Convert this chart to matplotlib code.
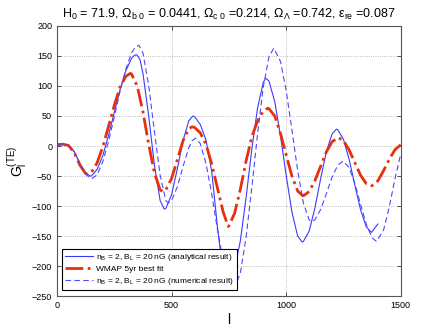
import matplotlib
matplotlib.use("Agg")
import matplotlib.pyplot as plt
import numpy as np

plt.rcParams['font.family'] = ['Liberation Sans', 'DejaVu Sans']
plt.rcParams['mathtext.fontset'] = 'custom'
plt.rcParams['mathtext.rm'] = 'Liberation Sans'
plt.rcParams['mathtext.it'] = 'Liberation Sans'

# analytical result (solid blue)
l_analytical = [0, 25, 50, 75, 100, 125, 145, 150, 175, 200, 225, 250, 275, 300,
                325, 337, 348, 362, 375, 400, 425, 450, 468, 475, 500, 525, 550,
                575, 593, 600, 625, 650, 675, 700, 725, 742, 750, 775, 800, 825,
                850, 875, 900, 911, 925, 950, 975, 1000, 1025, 1050, 1070, 1075,
                1100, 1125, 1150, 1175, 1200, 1219, 1225, 1250, 1275, 1300, 1325,
                1350, 1372, 1400]
g_analytical = [3, 3, 1, -9, -29, -45, -50, -50, -39, -16, 18, 56, 94, 125,
                146, 151, 152, 144, 121, 50, -32, -91, -105, -104, -81, -38, 9,
                42, 50, 49, 36, 10, -42, -135, -212, -240, -236, -205, -158, -86,
                -5, 63, 106, 113, 108, 74, 17, -49, -110, -150, -160, -159,
                -142, -104, -55, -10, 20, 28, 27, 11, -23, -66, -107,
                -135, -144, -130]

# WMAP 5yr best fit (red dash-dot)
l_wmap = [0, 25, 50, 75, 100, 125, 135, 150, 175, 200, 225, 250, 275, 300, 320,
          325, 350, 375, 400, 425, 450, 462, 475, 500, 525, 550, 575, 589, 600,
          625, 650, 675, 700, 725, 747, 750, 775, 800, 825, 850, 875, 900, 920,
          925, 950, 975, 1000, 1025, 1050, 1073, 1075, 1100, 1125, 1150, 1175,
          1200, 1226, 1250, 1275, 1300, 1325, 1350, 1369, 1375, 1400, 1425,
          1450, 1475, 1500]
g_wmap = [2, 3, 1, -11, -32, -46, -47, -44, -28, -1, 33, 68, 98, 116, 121,
          120, 100, 57, 3, -45, -73, -76, -73, -54, -23, 9, 29, 32, 31,
          22, 3, -30, -70, -110, -134, -133, -112, -72, -25, 15, 42, 58, 63,
          62, 50, 21, -15, -50, -75, -83, -83, -76, -58, -34, -10,
          7, 14, 9, -7, -28, -49, -63, -66, -66, -58, -41,
          -22, -6, 2]

# numerical result (dashed blue)
l_numerical = [0, 25, 50, 75, 100, 125, 150, 175, 200, 225, 250, 275, 300, 325,
               340, 357, 375, 400, 425, 450, 475, 485, 500, 525, 550, 575, 590,
               605, 625, 650, 675, 700, 725, 750, 772, 800, 825, 850, 875, 900,
               925, 946, 975, 1000, 1025, 1050, 1075, 1100, 1110, 1125, 1150,
               1175, 1200, 1225, 1248, 1275, 1300, 1325, 1350, 1375, 1394, 1425,
               1450, 1475, 1500]
g_numerical = [3, 3, 1, -10, -29, -47, -55, -48, -26, 8, 49, 91, 128, 155,
               164, 168, 155, 101, 24, -49, -91, -95, -91, -68, -34, -3, 9,
               13, 4, -29, -80, -139, -191, -226, -237, -212, -152, -69, 20, 98,
               149, 163, 141, 92, 27, -41, -95, -123, -126, -123, -106,
               -80, -52, -32, -25, -36, -63, -98, -131, -153, -159, -140,
               -101, -54, -13]

legend_labels = [r'n$_B$ = 2, B$_L$ = 20 nG (analytical result)',
                 'WMAP 5yr best fit',
                 r'n$_B$ = 2, B$_L$ = 20 nG (numerical result)']

title = (r'H$_0$ = 71.9, $\Omega_{b\ 0}$ = 0.0441, $\Omega_{c\ 0}$ =0.214, '
         r'$\Omega_\Lambda$ =0.742, $\epsilon_{re}$ =0.087')

fig = plt.figure(figsize=(4.43, 3.33), dpi=100)
ax = fig.add_axes([0.1287, 0.111, 0.776, 0.811])

ax.plot(l_analytical, g_analytical, '-', color='#3a3aff', lw=0.8,
        label=legend_labels[0])
ax.plot(l_wmap, g_wmap, '-.', color='#e8300c', lw=2.0, label=legend_labels[1])
ax.plot(l_numerical, g_numerical, '--', color='#4a4aff', lw=0.8, dashes=(5, 3),
        label=legend_labels[2])

ax.set_xlim(0, 1500)
ax.set_ylim(-250, 200)
ax.set_xticks([0, 500, 1000, 1500])
ax.set_yticks(np.arange(-250, 201, 50))
ax.tick_params(direction='in', labelsize=6.5, length=3, width=0.6,
               top=True, right=True, colors='#333333', labelcolor='black')
ax.grid(True, linestyle=':', color='#aaaaaa', lw=0.6)
for s in ax.spines.values():
    s.set_color('#555555')
    s.set_linewidth(0.8)

ax.set_title(title, fontsize=9, pad=6)
ax.set_xlabel('l', fontsize=10, labelpad=2)
ax.set_ylabel(r'G$_l^{(TE)}$', fontsize=10, labelpad=2)

leg = ax.legend(loc='lower left', bbox_to_anchor=(0.014, 0.022), fontsize=6.0,
                frameon=True, fancybox=False, framealpha=1, edgecolor='black',
                handlelength=3.4, borderpad=0.35, labelspacing=0.35,
                handletextpad=0.4, borderaxespad=0)
leg.get_frame().set_linewidth(0.8)

fig.savefig('out.png', dpi=100)
